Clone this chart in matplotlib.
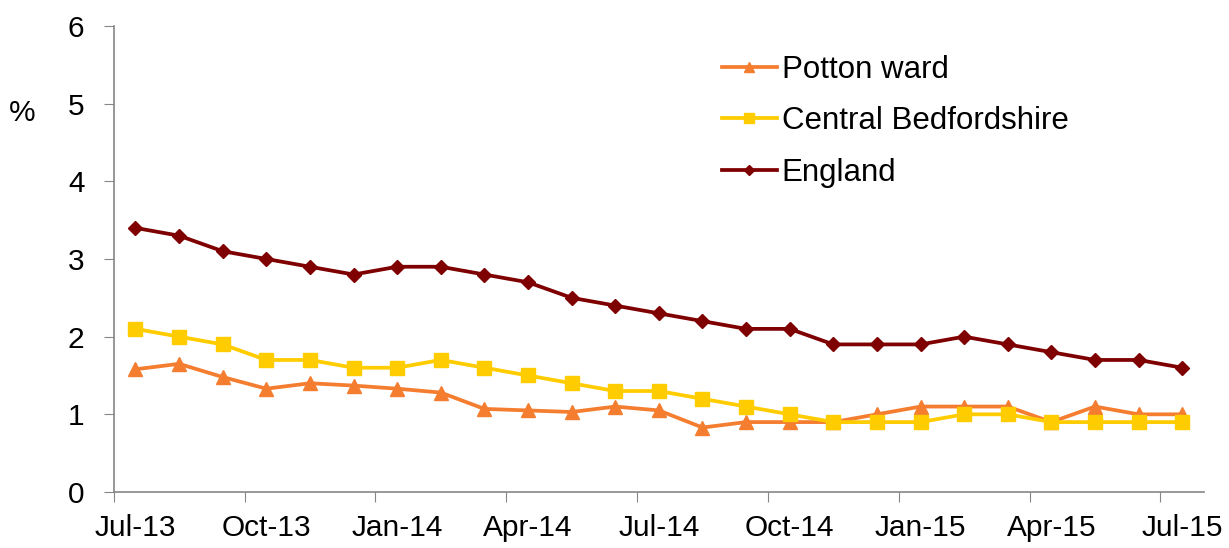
import matplotlib.pyplot as plt
import numpy as np

plt.rcParams['font.family'] = ['Liberation Sans', 'DejaVu Sans']

months = ['Jul-13', 'Aug-13', 'Sep-13', 'Oct-13', 'Nov-13', 'Dec-13', 'Jan-14', 'Feb-14', 'Mar-14',
          'Apr-14', 'May-14', 'Jun-14', 'Jul-14', 'Aug-14', 'Sep-14', 'Oct-14', 'Nov-14', 'Dec-14',
          'Jan-15', 'Feb-15', 'Mar-15', 'Apr-15', 'May-15', 'Jun-15', 'Jul-15']
potton = [1.58, 1.65, 1.48, 1.33, 1.40, 1.37, 1.33, 1.28, 1.07, 1.05, 1.03, 1.10, 1.05,
          0.83, 0.90, 0.90, 0.90, 1.00, 1.10, 1.10, 1.10, 0.90, 1.10, 1.00, 1.00]
central_beds = [2.1, 2.0, 1.9, 1.7, 1.7, 1.6, 1.6, 1.7, 1.6, 1.5, 1.4, 1.3, 1.3,
                1.2, 1.1, 1.0, 0.9, 0.9, 0.9, 1.0, 1.0, 0.9, 0.9, 0.9, 0.9]
england = [3.4, 3.3, 3.1, 3.0, 2.9, 2.8, 2.9, 2.9, 2.8, 2.7, 2.5, 2.4, 2.3,
           2.2, 2.1, 2.1, 1.9, 1.9, 1.9, 2.0, 1.9, 1.8, 1.7, 1.7, 1.6]

x = np.arange(len(months))
fs = 21.5

fig = plt.figure(figsize=(12.29, 5.48), dpi=100)
ax = fig.add_axes([0.0925, 0.1022, 0.8872, 0.8504])

ax.plot(x, potton, color='#F47D30', lw=2.7, marker='^', ms=10, label='Potton ward')
ax.plot(x, central_beds, color='#FFCC00', lw=2.7, marker='s', ms=10, label='Central Bedfordshire')
ax.plot(x, england, color='#7F0000', lw=2.7, marker='D', ms=7.5, label='England')

ax.set_xlim(-0.5, len(months) - 0.5)
ax.set_ylim(0, 6)
ax.set_yticks(range(0, 7))

# tick marks on category boundaries, labels on category centres
ax.set_xticks(np.arange(-0.5, len(months), 3))
ax.set_xticklabels([])
ax.set_xticks(x[::3], minor=True)
ax.set_xticklabels(months[::3], minor=True)
ax.tick_params(axis='x', which='major', length=7, color='#868686', direction='out')
ax.tick_params(axis='x', which='minor', length=0, pad=16, labelsize=fs)
ax.tick_params(axis='y', length=7, color='#868686', labelsize=fs, pad=14)

for s in ['top', 'right']:
    ax.spines[s].set_visible(False)
for s in ['left', 'bottom']:
    ax.spines[s].set_color('#868686')
    ax.spines[s].set_linewidth(1.2)

fig.text(22 / 1229, 1 - 113 / 548, '%', fontsize=fs, ha='center', va='center')

ax.legend(loc='upper left', bbox_to_anchor=(722 / 1229, 1 - 55 / 548),
          bbox_transform=fig.transFigure, frameon=False, fontsize=22.5,
          handlelength=1.75, handletextpad=0.16, labelspacing=0.68, markerscale=0.7,
          borderpad=0, borderaxespad=0)

fig.savefig('out.png', dpi=100)
